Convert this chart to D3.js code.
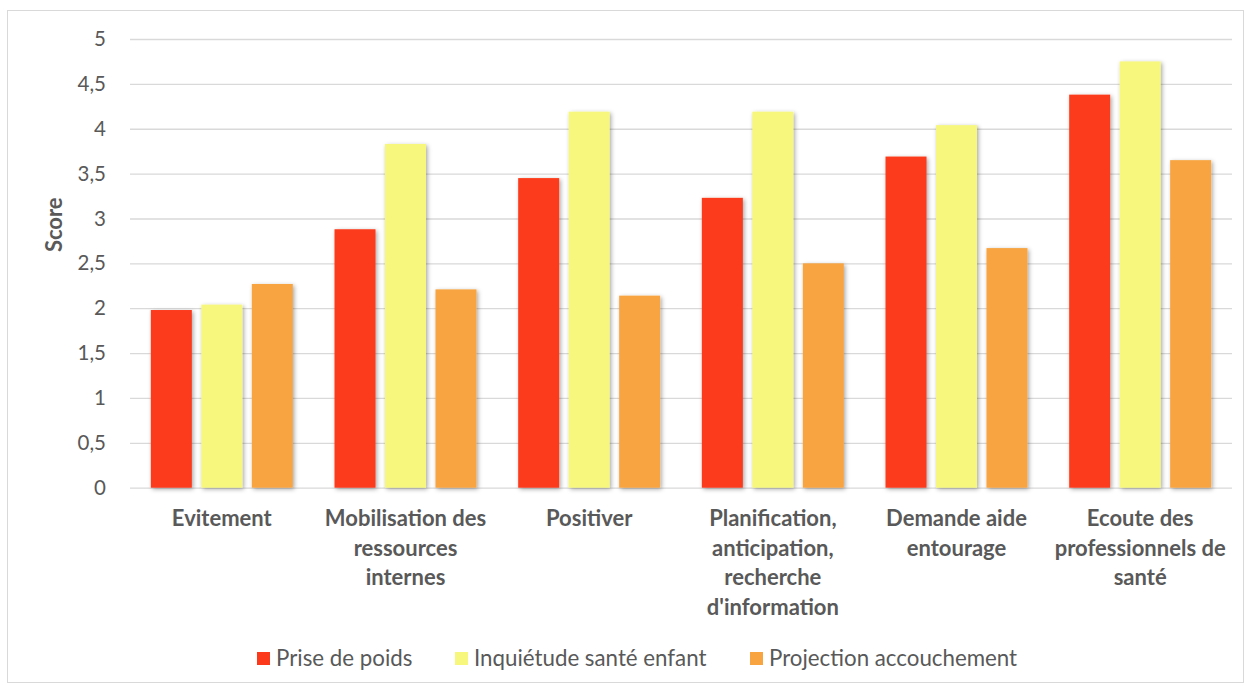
<!DOCTYPE html>
<html><head><meta charset="utf-8">
<script src="https://cdn.jsdelivr.net/npm/d3@7"></script>
<style>
html,body{margin:0;padding:0;background:#fff;}
text{font-family:Lato,"Open Sans",sans-serif;}
</style></head>
<body>
<svg id="chart" width="1251" height="689"></svg>
<script>
const categories = ["Evitement","Mobilisation des\nressources\ninternes","Positiver","Planification,\nanticipation,\nrecherche\nd'information","Demande aide\nentourage","Ecoute des\nprofessionnels de\nsanté"];
const seriesNames = ["Prise de poids","Inquiétude santé enfant","Projection accouchement"];
const priseDePoids = [1.98,2.88,3.45,3.23,3.69,4.38];
const inquietudeSante = [2.04,3.83,4.19,4.19,4.04,4.75];
const projectionAccouchement = [2.27,2.21,2.14,2.50,2.67,3.65];
const yTicks = [0,0.5,1,1.5,2,2.5,3,3.5,4,4.5,5];
const colors = ["#FC3A1B","#F6F77C","#F8A440"];

const series = [priseDePoids, inquietudeSante, projectionAccouchement];
const svg = d3.select("#chart");
const W = 1251, H = 689;
const m = {left:130, right:19, top:39, bottom:202};
const x0 = d3.scaleBand().domain(d3.range(categories.length)).range([m.left, W-m.right]).paddingInner(0).paddingOuter(0);
const y = d3.scaleLinear().domain([0,5]).range([H-m.bottom+0.7, m.top]);
const x1 = d3.scaleBand().domain(d3.range(3)).range([0, x0.bandwidth()]).paddingInner(0.188).paddingOuter(0.413);

const defs = svg.append("defs");
const f = defs.append("filter").attr("id","sh").attr("x","-30%").attr("y","-10%").attr("width","160%").attr("height","130%");
f.append("feDropShadow").attr("dx",1.5).attr("dy",1.5).attr("stdDeviation",2).attr("flood-color","#000").attr("flood-opacity",0.35);

// border
svg.append("rect").attr("x",7.5).attr("y",10.5).attr("width",1236).attr("height",672).attr("fill","none").attr("stroke","#d9d9d9").attr("stroke-width",1);

// gridlines + y axis
const yAxis = d3.axisLeft(y).tickValues(yTicks).tickSize(-(W-m.left-m.right)).tickPadding(20)
  .tickFormat(d => String(d).replace(".",","));
const ga = svg.append("g").attr("transform",`translate(${m.left},0)`).call(yAxis);
ga.select(".domain").remove();
ga.selectAll(".tick line").attr("stroke","#d9d9d9").attr("stroke-width",1.3);
ga.selectAll(".tick text").attr("fill","#595959").style("font-size","20.5px").attr("x",-24);

// bars
const groups = svg.append("g").selectAll("g").data(categories).join("g")
  .attr("transform",(d,i)=>`translate(${x0(i)},0)`);
groups.selectAll("rect").data((d,i)=>series.map((s,k)=>({k, v:s[i]}))).join("rect")
  .attr("x",d=>x1(d.k)).attr("width",x1.bandwidth())
  .attr("y",d=>y(d.v)).attr("height",d=>y(0)-y(d.v))
  .attr("fill",d=>colors[d.k]).attr("filter","url(#sh)");

// category labels
const cl = svg.append("g").selectAll("text").data(categories).join("text")
  .attr("text-anchor","middle").attr("fill","#595959").style("font-size","22px").style("font-weight","bold")
  .attr("transform",(d,i)=>`translate(${x0(i)+x0.bandwidth()/2},526)`);
cl.each(function(d){
  const t = d3.select(this);
  d.split("\n").forEach((line,j)=>t.append("tspan").attr("x",0).attr("y",j*29.5).text(line));
});

// y axis title
svg.append("text").attr("transform",`translate(62,${y(2.93)}) rotate(-90)`).attr("text-anchor","middle")
  .attr("fill","#595959").style("font-size","22px").style("font-weight","bold").text("Score");

// legend
const legX = [257,455,750];
const lg = svg.append("g").selectAll("g").data(seriesNames).join("g").attr("transform",(d,i)=>`translate(${legX[i]},652)`);
lg.append("rect").attr("width",13).attr("height",13).attr("fill",(d,i)=>colors[i]);
lg.append("text").attr("x",19).attr("y",14).attr("fill","#595959").style("font-size","22.3px").text(d=>d);
</script>
</body></html>
